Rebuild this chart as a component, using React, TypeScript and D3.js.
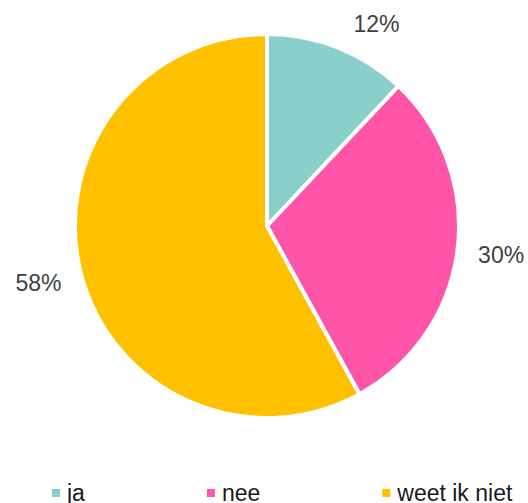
import React, { useRef, useEffect } from 'react';
import { select, pie, arc } from 'd3';

const categories = ['ja', 'nee', 'weet ik niet'];
const values = [12, 30, 58];
const colors = ['#89CFCB', '#FF55A9', '#FFC000'];

function PieChart() {
  const svgRef = useRef(null);

  useEffect(() => {
    const svg = select(svgRef.current);
    svg.selectAll('*').remove();

    const width = 528;
    const height = 503;
    const cx = 267;
    const cy = 226;
    const radius = 192;
    const font = 'Liberation Sans, Arial, sans-serif';

    const data = categories.map((name, i) => ({ name, value: values[i], color: colors[i] }));
    const totalAll = values.reduce((a, b) => a + b, 0);

    const slices = pie()
      .sort(null)
      .value(d => d.value)(data);

    const arcGen = arc().innerRadius(0).outerRadius(radius);

    const g = svg.append('g').attr('transform', `translate(${cx},${cy})`);

    g.selectAll('path')
      .data(slices)
      .join('path')
      .attr('d', arcGen)
      .attr('fill', d => d.data.color)
      .attr('stroke', '#fff')
      .attr('stroke-width', 4)
      .attr('stroke-linejoin', 'round');

    // percentage labels outside the pie (elliptical ring), kept below the top edge
    const rx = 236;
    const ry = 228;
    const minTop = 24 - cy;
    g.selectAll('.label')
      .data(slices)
      .join('text')
      .attr('class', 'label')
      .attr('text-anchor', 'middle')
      .attr('dominant-baseline', 'central')
      .attr('font-family', font)
      .attr('font-size', 23)
      .attr('fill', '#404040')
      .each(function (d) {
        const mid = (d.startAngle + d.endAngle) / 2;
        let x = rx * Math.sin(mid);
        let y = -ry * Math.cos(mid);
        if (y < minTop) {
          y = minTop;
          x = Math.sign(x) * rx * Math.sqrt(1 - (y / ry) * (y / ry));
        }
        select(this)
          .attr('x', x)
          .attr('y', y)
          .text(`${Math.round((d.data.value / totalAll) * 100)}%`);
      });

    // legend
    const legend = svg.append('g').attr('transform', `translate(0, ${493})`);
    let xPos = 52;
    data.forEach(d => {
      const item = legend.append('g').attr('transform', `translate(${xPos},0)`);
      item.append('rect')
        .attr('x', 0)
        .attr('y', -4)
        .attr('width', 8)
        .attr('height', 8)
        .attr('fill', d.color);
      const t = item.append('text')
        .attr('x', 15)
        .attr('y', 0)
        .attr('dominant-baseline', 'central')
        .attr('font-family', font)
        .attr('font-size', 23)
        .attr('fill', '#1a1a1a')
        .text(d.name);
      const w = t.node().getComputedTextLength();
      xPos += 15 + w + 122;
    });

    svg.attr('width', width).attr('height', height);
  }, []);

  return <svg ref={svgRef} style={{ position: 'absolute', left: 0, top: 0 }}></svg>;
}

export default function App() {
  return (
    <div>
      <PieChart />
    </div>
  );
}
